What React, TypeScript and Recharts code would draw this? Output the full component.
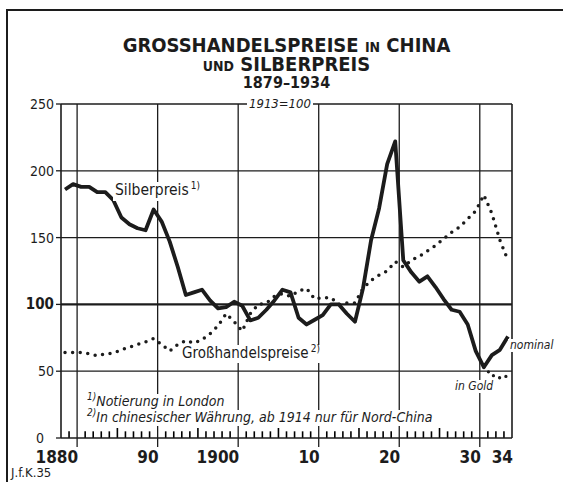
import React from "react";
import { LineChart, Line, XAxis, YAxis, ReferenceLine } from "recharts";

const YEARS = [
  1879, 1880, 1881, 1882, 1883, 1884, 1885, 1886, 1887, 1888,
  1889, 1890, 1891, 1892, 1893, 1894, 1895, 1896, 1897, 1898,
  1899, 1900, 1901, 1902, 1903, 1904, 1905, 1906, 1907, 1908,
  1909, 1910, 1911, 1912, 1913, 1914, 1915, 1916, 1917, 1918,
  1919, 1920, 1921, 1922, 1923, 1924, 1925, 1926, 1927, 1928,
  1929, 1930, 1931, 1932, 1933, 1934,
];

// Silberpreis, Notierung in London (1913 = 100)
const SILBERPREIS = [
  186, 190, 188, 188, 184, 184, 178, 165, 160, 157,
  155.5, 171, 162, 147, 128, 107, 109, 111, 103, 97,
  98, 102, 99, 88, 90, 96, 103, 111, 109, 90,
  85, 88.5, 92, 100, 100, 93, 87, 112, 148, 172,
  205, 222, 133, 124, 117, 121, 113, 104, 96, 94.5,
  85, 65, 53, 62, 66, 76,
];

// Großhandelspreise in China (1913 = 100)
const GROSSHANDELSPREISE = [
  64, 64, 64, 63, 61.5, 63, 63.5, 66, 68, 70,
  72, 74.5, 70, 65, 70, 73, 71, 73.5, 78, 84,
  93, 87, 80, 93, 100, 101, 106, 108, 106, 110,
  112, 104, 105, 105, 100, 101, 101, 112, 118, 122,
  125, 132, 128, 133, 136, 140, 144, 149, 154, 158,
  164, 170, 182, 168, 148, 133,
];

// Silberpreis in Gold, ab 1931
const GOLD_YEARS = [1931, 1932, 1933, 1934];
const SILBER_IN_GOLD = [53, 47, 45, 46.5];

const DECADES = [1880, 1890, 1900, 1910, 1920, 1930];
const DECADE_LABELS = ["1880", "90", "1900", "10", "20", "30"];
const END_YEAR = 1934;
const END_LABEL = "34";
const Y_TICKS = [0, 50, 100, 150, 200, 250];
const H_RULES = [50, 100, 150, 200];

// the decade rules of the original sit half a year right of the yearly values
const GRID_SHIFT = 0.5;

const INK = "#1c1c1c";
const FONT = '"DejaVu Sans Condensed", "DejaVu Sans", sans-serif';

const data = YEARS.map((year, i) => {
  const g = GOLD_YEARS.indexOf(year);
  return {
    year,
    silber: SILBERPREIS[i],
    gross: GROSSHANDELSPREISE[i],
    gold: g >= 0 ? SILBER_IN_GOLD[g] : null,
  };
});

// small year ticks along the base line (taller at the half decades)
const minorYears: number[] = [];
for (let y = YEARS[0]; y < END_YEAR; y++) if (y % 10 !== 0) minorYears.push(y);

const labelTicks = [...DECADES, END_YEAR].map((y) => y + GRID_SHIFT);

const XTick = (props: any) => {
  const { x, y, payload } = props;
  const grid = Math.round(payload.value - GRID_SHIFT);
  const d = DECADES.indexOf(grid);
  const label = d >= 0 ? DECADE_LABELS[d] : END_LABEL;
  return (
    <g>
      {d >= 0 && <line x1={x} y1={y} x2={x} y2={y + 9} stroke={INK} strokeWidth={1.3} />}
      <text x={x + 1} y={y + 25} textAnchor="end" fontSize={17} fontWeight="bold" fill={INK} fontFamily={FONT}>
        {label}
      </text>
    </g>
  );
};

const LeftTick = (props: any) => {
  const { x, y, payload } = props;
  const v = payload.value;
  return (
    <text
      x={v === 0 ? x - 10 : x}
      y={y + 5}
      textAnchor="end"
      fontSize={v === 100 ? 15 : 14}
      fontWeight={v === 100 ? "bold" : "normal"}
      fill={INK}
      fontFamily={FONT}
    >
      {v}
    </text>
  );
};

const RightTick = (props: any) => {
  const { x, y, payload } = props;
  const v = payload.value;
  return (
    <text
      x={x}
      y={y + 5}
      textAnchor="start"
      fontSize={v === 100 ? 15 : 14}
      fontWeight={v === 100 ? "bold" : "normal"}
      fill={INK}
      fontFamily={FONT}
    >
      {v}
    </text>
  );
};

const Note = ({ left, top, size = 13, italic = false, children }: any) => (
  <div
    style={{
      position: "absolute",
      left,
      top,
      fontSize: size,
      lineHeight: `${size + 1}px`,
      fontStyle: italic ? "italic" : "normal",
      fontFamily: FONT,
      color: INK,
      background: "#fff",
      padding: "0 2px",
      whiteSpace: "nowrap",
    }}
  >
    {children}
  </div>
);

const Sup = ({ children }: any) => (
  <span style={{ fontSize: 10, position: "relative", top: -6, marginLeft: 2 }}>{children}</span>
);

const titleLine = {
  position: "absolute" as const,
  left: 0,
  width: 573,
  textAlign: "center" as const,
  fontFamily: FONT,
  color: INK,
  fontWeight: "bold" as const,
  fontSize: 20,
  lineHeight: "18px",
  whiteSpace: "nowrap" as const,
};

export default function App() {
  return (
    <div style={{ position: "absolute", left: 0, top: 0, width: 563, height: 482, background: "#fff", overflow: "hidden" }}>
      <div style={{ position: "absolute", left: 6, top: 9, width: 2, height: 480, background: INK }} />
      <div style={{ position: "absolute", left: 6, top: 9, width: 560, height: 2, background: INK }} />

      <div style={{ ...titleLine, top: 36 }}>
        GROSSHANDELSPREISE <span style={{ fontSize: 14 }}>IN</span> CHINA
      </div>
      <div style={{ ...titleLine, top: 55 }}>
        <span style={{ fontSize: 14 }}>UND</span> SILBERPREIS
      </div>
      <div style={{ ...titleLine, top: 74, fontSize: 16, lineHeight: "17px" }}>
        1879–1934
      </div>

      <LineChart width={563} height={482} data={data} margin={{ top: 104, right: 6, bottom: 4, left: 11 }}>
        <XAxis
          dataKey="year"
          type="number"
          domain={[YEARS[0] - GRID_SHIFT, END_YEAR + GRID_SHIFT]}
          ticks={labelTicks}
          interval={0}
          tick={<XTick />}
          tickLine={false}
          tickSize={0}
          tickMargin={0}
          height={40}
          axisLine={{ stroke: INK, strokeWidth: 1.6 }}
        />
        <YAxis
          yAxisId="l"
          domain={[0, 250]}
          ticks={Y_TICKS}
          interval={0}
          width={50}
          tickSize={5}
          tickMargin={2}
          tick={<LeftTick />}
          tickLine={{ stroke: INK, strokeWidth: 1.3 }}
          axisLine={{ stroke: INK, strokeWidth: 1.6 }}
        />
        <YAxis
          yAxisId="r"
          orientation="right"
          domain={[0, 250]}
          ticks={Y_TICKS}
          interval={0}
          width={45}
          tickSize={5}
          tickMargin={3}
          tick={<RightTick />}
          tickLine={{ stroke: INK, strokeWidth: 1.3 }}
          axisLine={{ stroke: INK, strokeWidth: 1.6 }}
        />
        {minorYears.map((y) => (
          <ReferenceLine
            key={`m${y}`}
            yAxisId="l"
            segment={[
              { x: y + GRID_SHIFT, y: 0 },
              { x: y + GRID_SHIFT, y: y % 5 === 0 ? 7.5 : 5 },
            ]}
            stroke="#000"
            strokeWidth={1.6}
          />
        ))}
        {DECADES.map((d) => (
          <ReferenceLine key={d} yAxisId="l" x={d + GRID_SHIFT} stroke={INK} strokeWidth={1.3} />
        ))}
        {H_RULES.map((v) => (
          <ReferenceLine key={v} yAxisId="l" y={v} stroke={INK} strokeWidth={v === 100 ? 2.4 : 1.3} />
        ))}
        <ReferenceLine yAxisId="l" y={250} stroke={INK} strokeWidth={1.6} />
        <Line
          yAxisId="l"
          dataKey="gross"
          stroke={INK}
          strokeWidth={3.5}
          strokeDasharray="0 7.6"
          strokeLinecap="round"
          dot={false}
          isAnimationActive={false}
        />
        <Line
          yAxisId="l"
          dataKey="gold"
          stroke={INK}
          strokeWidth={3.3}
          strokeDasharray="0 6.5"
          strokeLinecap="round"
          dot={false}
          connectNulls={false}
          isAnimationActive={false}
        />
        <Line
          yAxisId="l"
          dataKey="silber"
          stroke={INK}
          strokeWidth={3.8}
          strokeLinejoin="round"
          dot={false}
          isAnimationActive={false}
        />
      </LineChart>

      <Note left={247} top={97} size={13} italic>1913=100</Note>
      <Note left={113} top={182} size={15.5}>
        Silberpreis<Sup>1)</Sup>
      </Note>
      <Note left={180} top={345} size={15}>
        Großhandelspreise<Sup>2)</Sup>
      </Note>
      <Note left={83} top={394} size={14} italic>
        <Sup>1)</Sup>Notierung in London
      </Note>
      <Note left={83} top={410} size={14} italic>
        <Sup>2)</Sup>In chinesischer Währung, ab 1914 nur für Nord-China
      </Note>
      <Note left={508} top={339} size={12} italic>nominal</Note>
      <Note left={453} top={380} size={12} italic>in Gold</Note>
      <div style={{ position: "absolute", left: 11, top: 466, fontFamily: FONT, fontSize: 13, color: INK, lineHeight: "14px" }}>
        J.f.K.35
      </div>
    </div>
  );
}
